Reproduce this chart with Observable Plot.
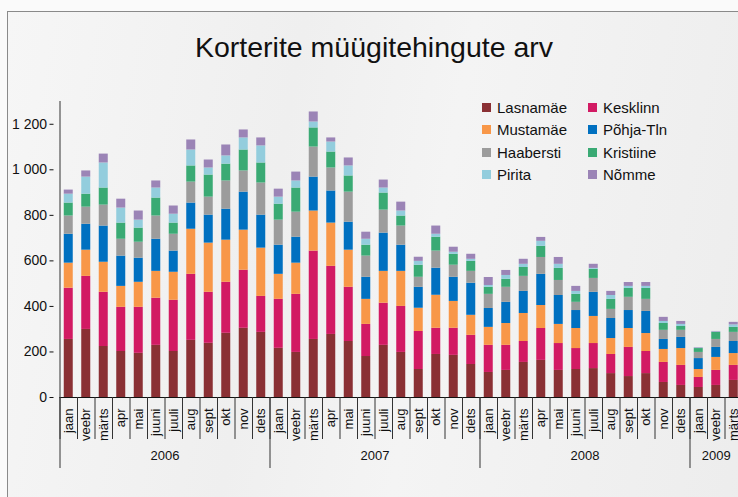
<!DOCTYPE html>
<html>
<head>
<meta charset="utf-8">
<script src="https://cdn.jsdelivr.net/npm/d3@7"></script>
<script src="https://cdn.jsdelivr.net/npm/@observablehq/plot@0.6"></script>
<style>
  html, body { margin: 0; padding: 0; width: 738px; height: 497px; overflow: hidden; background: #fafafa; font-family: "Liberation Sans", Arial, sans-serif; }
  #panel { position: absolute; left: 7px; top: 11px; width: 760px; height: 520px; border-left: 1px solid #8a8a8a; border-top: 1px solid #8a8a8a;
    background: linear-gradient(100deg, #f6f6f6 0%, #efefef 35%, #f4f4f4 55%, #ececec 100%); }
  #chart { position: absolute; left: 0; top: 0; width: 745px; }
  #chart svg { max-width: none !important; }
  #title { position: absolute; left: 0; width: 748px; top: 31px; text-align: center; font-size: 28.5px; color: #111; }
  #legend { position: absolute; left: 482px; top: 98px; display: grid; grid-template-columns: 106px 110px; row-gap: 4px; font-size: 15px; color: #111; }
  #legend div { display: flex; align-items: center; height: 18.5px; }
  #legend span.sw { width: 9px; height: 9px; margin-right: 6px; display: inline-block; }
</style>
</head>
<body>
<div id="panel"></div>
<div id="chart"></div>
<div id="title">Korterite müügitehingute arv</div>
<div id="legend"></div>
<script>
const years = ["2006", "2007", "2008", "2009"];
const monthNames = ["jaan", "veebr", "märts", "apr", "mai", "juuni", "juuli", "aug", "sept", "okt", "nov", "dets"];
const districts = ["Lasnamäe", "Kesklinn", "Mustamäe", "Põhja-Tln", "Haabersti", "Kristiine", "Pirita", "Nõmme"];
const colors = ["#8a3034", "#d21a63", "#f89748", "#0070c0", "#9c9c9c", "#3aaa74", "#93cddd", "#9b84b6"];

const lasnamae = [255,299,224,202,194,229,202,251,238,282,304,286, 216,198,255,277,246,180,229,198,123,189,185,145, 110,119,154,163,119,123,127,105,92,105,66,53, 44,53,75];
const kesklinn = [225,233,238,194,202,207,225,290,224,224,255,158, 215,255,388,299,238,141,185,202,167,115,119,128, 119,110,92,140,118,92,110,84,128,97,88,88, 44,66,66];
const mustamae = [110,115,132,92,110,118,123,198,216,185,176,212, 110,137,176,190,163,110,140,154,102,145,118,88, 79,96,123,101,84,88,119,70,83,79,57,74, 35,57,52];
const pohjaTln = [127,114,159,133,106,141,93,115,123,136,167,145, 128,114,149,141,123,97,168,115,92,119,106,141, 83,93,97,137,127,79,106,88,79,97,44,49, 48,44,53];
const haabersti = [80,75,92,74,70,102,74,92,79,124,93,141, 110,110,132,101,132,93,101,84,44,75,53,52, 62,66,66,74,66,36,61,40,58,53,40,31, 27,35,40];
const kristiine = [57,57,75,71,62,79,49,71,97,74,92,88, 70,106,84,70,71,48,75,44,53,61,48,44, 31,35,39,49,53,35,40,44,39,48,30,17, 17,31,22];
const pirita = [39,75,110,66,35,44,39,70,31,36,53,75, 31,31,26,44,44,26,22,22,17,13,9,9, 8,17,14,22,18,13,4,17,9,9,9,9, 2,2,11];
const nomme = [18,27,39,39,40,31,36,44,35,48,35,35, 35,39,44,18,35,31,35,39,18,36,22,22, 35,22,22,17,30,22,18,18,17,17,18,13, 2,2,11];

const seriesValues = [lasnamae, kesklinn, mustamae, pohjaTln, haabersti, kristiine, pirita, nomme];

// month keys: 2006-01 .. 2009-03
const monthKeys = [];
years.forEach(y => {
  const n = y === "2009" ? 3 : 12;
  for (let m = 0; m < n; m++) monthKeys.push(`${y}-${String(m + 1).padStart(2, "0")}`);
});
const monthLabel = k => monthNames[+k.slice(5) - 1];

const data = [];
districts.forEach((d, i) => {
  monthKeys.forEach((k, j) => data.push({month: k, district: d, value: seriesValues[i][j]}));
});

const fmt = d3.formatLocale({decimal: ",", thousands: " ", grouping: [3], currency: ["", ""]}).format(",d");
const step = (742 - 59.5) / monthKeys.length;
const fullYears = years.filter(y => y !== "2009");

const chart = Plot.plot({
  width: 745,
  height: 497,
  marginLeft: 59.5,
  marginRight: 3,
  marginTop: 101,
  marginBottom: 100,
  style: {background: "transparent", fontFamily: "'Liberation Sans', Arial, sans-serif", color: "#111", maxWidth: "none"},
  x: {type: "band", domain: monthKeys, padding: 0, round: false},
  y: {domain: [0, 1300]},
  color: {domain: districts, range: colors},
  marks: [
    Plot.barY(data, {x: "month", y: "value", fill: "district", insetLeft: 4.25, insetRight: 4.25}),
    Plot.ruleY([0], {stroke: "#111", strokeWidth: 1.2}),
    Plot.frame({anchor: "left", stroke: "#333"}),
    Plot.axisY({ticks: [0, 200, 400, 600, 800, 1000, 1200], tickFormat: fmt, tickSize: 4, dx: -6, tickPadding: 3, fontSize: 14, label: null, stroke: "#111"}),
    Plot.axisX(monthKeys, {tickSize: 42, dx: -step / 2, tickFormat: () => "", label: null, stroke: "#333"}),
    Plot.axisX(monthKeys.filter(k => k.endsWith("-01")), {tickSize: 71, dx: -step / 2, tickFormat: () => "", label: null, stroke: "#333"}),
    Plot.text(monthKeys, {x: d => d, text: monthLabel, frameAnchor: "bottom", dy: 11, rotate: -90, textAnchor: "end", lineAnchor: "middle", fontSize: 13, fill: "#111"}),
    Plot.text(fullYears, {x: d => d + "-06", text: d => d, dx: step / 2, frameAnchor: "bottom", dy: 62, fontSize: 13, fill: "#111"}),
    Plot.text(["2009"], {x: d => d + "-02", text: d => d, frameAnchor: "bottom", dy: 62, fontSize: 13, fill: "#111"})
  ]
});
document.getElementById("chart").appendChild(chart);

const legend = document.getElementById("legend");
districts.forEach((d, i) => {
  const item = document.createElement("div");
  item.innerHTML = `<span class="sw" style="background:${colors[i]}"></span>${d}`;
  legend.appendChild(item);
});
</script>
</body>
</html>
